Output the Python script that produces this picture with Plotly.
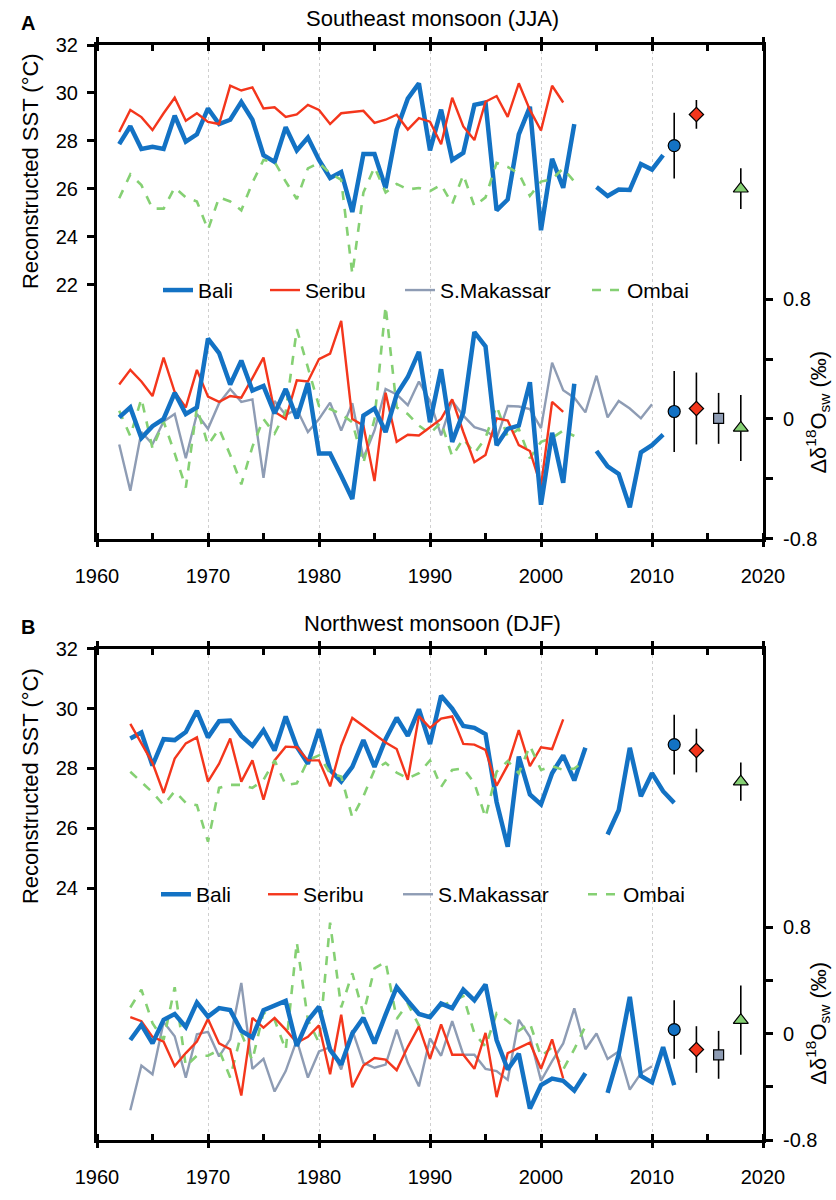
import plotly.graph_objects as go

# ---------------- DATA ----------------
# Panel A: Southeast monsoon (JJA)
a_bali_years = list(range(1962, 2012))
a_bali_sst = [27.86, 28.61, 27.66, 27.75, 27.66, 29.05, 27.97, 28.27, 29.35, 28.7,
              28.88, 29.62, 28.88, 27.4, 27.12, 28.57, 27.6, 28.14, 27.2, 26.45,
              26.7, 25.03, 27.45, 27.45, 26.03, 28.47, 29.76, 30.4, 27.6, 29.3,
              27.2, 27.5, 29.5, 29.6, 25.1, 25.55, 28.27, 29.42, 24.27, 27.25,
              26.04, 28.7, None, 26.07, 25.7, 25.97, 25.95, 27.03, 26.8, 27.4]
a_seribu_years = list(range(1962, 2003))
a_seribu_sst = [28.37, 29.29, 28.99, 28.45, 29.15, 29.8, 28.84, 29.15, 28.79, 28.7,
                30.3, 30.1, 30.23, 29.35, 29.4, 29.0, 29.1, 29.5, 29.29, 28.7,
                29.15, 29.2, 29.25, 28.75, 28.88, 29.09, 28.47, 28.95, 28.8, 27.86,
                29.8, 28.6, 28.03, 29.63, 29.87, 29.0, 30.4, 29.29, 28.43, 30.3,
                29.6]
a_ombai_years = list(range(1962, 2004))
a_ombai_sst = [25.6, 26.6, 26.15, 25.17, 25.17, 26.05, 25.64, 25.47, 24.29, 25.64,
               25.47, 25.1, 26.25, 27.2, 27.12, 26.3, 25.57, 26.85, 27.08, 26.64,
               26.37, 22.44, 25.84, 26.9, 25.84, 26.2, 25.97, 26.03, 25.9, 26.17,
               25.36, 26.58, 25.27, 25.64, 27.08, 26.91, 26.64, 25.7, 26.3, 26.4,
               26.85, 26.3]
a_bali_d18o = [0.011, 0.077, -0.127, -0.048, 0.0, 0.175, 0.033, 0.077, 0.536, 0.44,
               0.23, 0.39, 0.19, 0.22, 0.037, 0.20, 0.004, 0.24, -0.23, -0.23,
               -0.38, -0.535, 0.022, 0.07, -0.087, 0.164, 0.28, 0.448, -0.022, 0.332,
               -0.153, 0.044, 0.58, 0.485, -0.175, -0.066, -0.044, 0.245, -0.573, -0.092,
               -0.426, 0.236, None, -0.214, -0.317, -0.367, -0.59, -0.223, -0.175, -0.105]
a_seribu_d18o = [0.23, 0.328, 0.25, 0.153, 0.41, 0.18, 0.077, 0.328, 0.149, 0.114,
                 0.153, 0.142, 0.273, 0.41, 0.048, 0.0, 0.258, 0.25, 0.40, 0.437,
                 0.656, 0.0, -0.044, -0.415, 0.175, -0.153, -0.105, -0.11, -0.055, 0.0,
                 0.131, -0.087, -0.289, -0.24, 0.004, -0.011, -0.175, -0.214, -0.448, 0.114,
                 0.048]
a_makassar_years = list(range(1962, 2011))
a_makassar_d18o = [-0.17, -0.48, -0.087, -0.168, -0.017, 0.033, -0.262, 0.033, -0.066, 0.105,
                   0.20, 0.114, 0.131, -0.393, 0.12, 0.026, 0.066, -0.087, 0.0, 0.109,
                   -0.077, 0.105, -0.262, -0.077, 0.20, 0.164, 0.092, 0.25, 0.12, -0.109,
                   0.12, 0.022, -0.055, -0.077, -0.131, 0.087, 0.083, 0.066, -0.061, 0.376,
                   0.192, 0.142, 0.044, 0.289, 0.011, 0.12, 0.07, 0.004, 0.098]
a_ombai_d18o = [0.055, -0.114, 0.136, -0.197, -0.017, -0.23, -0.459, 0.077, -0.175, -0.066,
                -0.24, -0.437, -0.186, 0.0, -0.098, 0.048, 0.60, 0.339, 0.087, 0.066,
                0.033, -0.022, -0.295, 0.0, 0.754, 0.077, 0.033, -0.044, -0.098, -0.022,
                -0.25, -0.131, -0.23, -0.127, 0.087, -0.12, -0.066, -0.262, -0.153, -0.127,
                -0.077, -0.114]
a_mk_sst_years = [2012, 2014, 2018]
a_mk_sst = [27.8, 29.1, 26.0]
a_mk_sst_err = [1.37, 0.6, 0.85]
a_mk_d_years = [2012, 2014, 2016, 2018]
a_mk_d = [0.05, 0.07, 0.004, -0.06]
a_mk_d_err = [0.27, 0.24, 0.17, 0.22]

# Panel B: Northwest monsoon (DJF)
b_bali_years = list(range(1963, 2013))
b_bali_sst = [29.0, 29.2, 28.1, 28.98, 28.95, 29.22, 29.93, 29.04, 29.58, 29.6,
              29.09, 28.76, 29.28, 28.6, 29.74, 28.73, 28.16, 29.31, 27.95, 27.56,
              28.05, 28.95, 28.05, 28.98, 29.7, 29.09, 29.98, 28.82, 30.43, 30.0,
              29.42, 29.36, 29.15, 26.88, 25.38, 28.4, 27.13, 26.8, 27.84, 28.44,
              27.6, 28.69, None, 25.79, 26.6, 28.69, 27.07, 27.84, 27.24, 26.85]
b_seribu_years = list(range(1963, 2003))
b_seribu_sst = [29.49, 28.82, 28.19, 27.18, 28.33, 28.84, 29.04, 27.56, 28.16, 29.0,
                27.56, 28.27, 26.96, 28.27, 28.73, 28.71, 28.27, 28.27, 27.4, 28.76,
                29.69, 29.42, 29.15, 28.87, 28.65, 27.62, 29.75, 29.36, 29.67, 29.74,
                28.82, 28.8, 28.62, 27.42, 28.11, 29.28, 28.08, 28.71, 28.65, 29.64]
b_ombai_years = list(range(1963, 2005))
b_ombai_sst = [27.89, 27.53, 27.2, 26.77, 27.24, 26.85, 26.77, 25.55, 27.35, 27.45,
               27.45, 27.35, 27.62, 28.27, 27.45, 27.5, 28.27, 28.44, 27.84, 27.73,
               26.36, 27.07, 27.95, 28.19, 27.86, 27.67, 27.84, 28.27, 27.38, 27.95,
               28.0, 27.51, 26.36, 27.89, 28.25, 27.84, 28.76, 27.95, 28.08, 27.95,
               28.0, 28.27]
b_bali_d18o = [-0.049, 0.066, -0.074, 0.103, 0.147, 0.049, 0.233, 0.127, 0.191, 0.176,
               0.02, -0.029, 0.176, 0.213, 0.245, -0.093, 0.098, 0.201, -0.123, -0.233,
               0.0, 0.118, -0.074, 0.142, 0.348, 0.245, 0.147, 0.123, 0.225, 0.191,
               0.33, 0.25, 0.368, -0.049, -0.27, -0.152, -0.564, -0.387, -0.338, -0.355,
               -0.429, -0.299, None, -0.446, -0.159, 0.275, -0.319, -0.368, -0.103, -0.387]
b_seribu_d18o = [0.123, 0.093, -0.025, -0.061, -0.245, -0.147, -0.061, 0.11, -0.074, -0.118,
                 -0.466, 0.118, 0.044, 0.118, 0.029, -0.069, -0.025, 0.061, -0.306, 0.142,
                 -0.404, -0.24, -0.184, -0.196, -0.275, -0.1, 0.054, -0.191, 0.069, -0.159,
                 -0.159, -0.265, 0.005, -0.478, -0.147, -0.11, -0.069, -0.265, -0.044, -0.338]
b_makassar_years = list(range(1963, 2011))
b_makassar_d18o = [-0.576, -0.24, -0.306, 0.086, -0.02, -0.331, -0.005, 0.012, -0.172, -0.044,
                   0.38, -0.265, -0.191, -0.436, -0.282, -0.049, -0.331, -0.135, -0.103, -0.27,
                   0.025, -0.22, -0.257, -0.233, 0.029, -0.22, -0.397, -0.037, -0.167, 0.093,
                   -0.159, -0.159, -0.265, -0.282, -0.348, 0.103, -0.025, -0.355, -0.208, -0.074,
                   0.189, -0.118, 0.0, -0.191, -0.135, -0.422, -0.299, -0.245]
b_ombai_d18o = [0.196, 0.33, 0.078, -0.049, 0.348, -0.245, -0.167, -0.167, -0.123, -0.331,
                0.0, -0.201, 0.159, 0.103, -0.123, 0.686, 0.103, -0.069, 0.833, 0.196,
                0.453, 0.147, 0.49, 0.539, 0.11, 0.225, 0.061, 0.142, 0.208, 0.24,
                0.282, 0.0, -0.098, 0.152, 0.093, 0.02, 0.078, -0.172, -0.103, -0.27,
                -0.118, 0.054]
b_mk_sst_years = [2012, 2014, 2018]
b_mk_sst = [28.8, 28.6, 27.56]
b_mk_sst_err = [1.0, 0.73, 0.64]
b_mk_d_years = [2012, 2014, 2016, 2018]
b_mk_d = [0.03, -0.12, -0.16, 0.1]
b_mk_d_err = [0.22, 0.175, 0.18, 0.26]

x_tick_vals = [1960, 1970, 1980, 1990, 2000, 2010, 2020]
a_sst_ticks = [22, 24, 26, 28, 30, 32]
b_sst_ticks = [24, 26, 28, 30, 32]
d_tick_vals = [-0.8, 0, 0.8]
d_tick_text = ["-0.8", "0", "0.8"]
d_minor_vals = [-0.4, 0.4]

# ---------------- STYLE ----------------
C_BALI = "#1372c4"
C_SERIBU = "#f4361c"
C_MAK = "#8e9cb4"
C_OMBAI = "#85d073"
FONT = "Liberation Sans, Arial, Helvetica, sans-serif"

W, H = 836, 1200
L, R, T, B = 97, 73, 45, 35
PW, PH = W - L - R, H - T - B


def px_x(px):
    return (px - L) / PW


def px_y(py):
    return (H - B - py) / PH


fig = go.Figure()


def line(x, y, color, width, xa, ya, name, legend, show, dash="solid"):
    fig.add_trace(go.Scatter(
        x=x, y=y, mode="lines", name=name, xaxis=xa, yaxis=ya,
        line=dict(color=color, width=width, dash=dash),
        legend=legend, showlegend=show, connectgaps=False, hoverinfo="skip"))


def markers(x, y, err, symbols, colors, sizes, xa, ya):
    fig.add_trace(go.Scatter(
        x=x, y=y, mode="markers", xaxis=xa, yaxis=ya, showlegend=False,
        marker=dict(symbol=symbols, color=colors, size=sizes, opacity=1,
                    line=dict(color="black", width=1.2)),
        error_y=dict(type="data", array=err, color="black", thickness=1.6, width=0),
        hoverinfo="skip"))


# Panel A
line(a_bali_years, a_bali_sst, C_BALI, 4.5, "x", "y", "Bali", "legend", True)
line(a_seribu_years, a_seribu_sst, C_SERIBU, 2.4, "x", "y", "Seribu", "legend2", True)
line(a_makassar_years, a_makassar_d18o, C_MAK, 2.4, "x", "y2", "S.Makassar", "legend3", True)
line(a_ombai_years, a_ombai_sst, C_OMBAI, 2.6, "x", "y", "Ombai", "legend4", True, "dash")
line(a_ombai_years, a_ombai_d18o, C_OMBAI, 2.6, "x", "y2", "Ombai", "legend4", False, "dash")
line(a_seribu_years, a_seribu_d18o, C_SERIBU, 2.4, "x", "y2", "Seribu", "legend2", False)
line(a_bali_years, a_bali_d18o, C_BALI, 4.5, "x", "y2", "Bali", "legend", False)
markers(a_mk_sst_years, a_mk_sst, a_mk_sst_err,
        ["circle", "diamond", "triangle-up"], [C_BALI, C_SERIBU, C_OMBAI], [12, 11, 13], "x", "y")
markers(a_mk_d_years, a_mk_d, a_mk_d_err,
        ["circle", "diamond", "square", "triangle-up"], [C_BALI, C_SERIBU, C_MAK, C_OMBAI],
        [12, 11, 10, 13], "x", "y2")

# Panel B
line(b_bali_years, b_bali_sst, C_BALI, 4.5, "x2", "y3", "Bali", "legend5", True)
line(b_seribu_years, b_seribu_sst, C_SERIBU, 2.4, "x2", "y3", "Seribu", "legend6", True)
line(b_makassar_years, b_makassar_d18o, C_MAK, 2.4, "x2", "y4", "S.Makassar", "legend7", True)
line(b_ombai_years, b_ombai_sst, C_OMBAI, 2.6, "x2", "y3", "Ombai", "legend8", True, "dash")
line(b_ombai_years, b_ombai_d18o, C_OMBAI, 2.6, "x2", "y4", "Ombai", "legend8", False, "dash")
line(b_seribu_years, b_seribu_d18o, C_SERIBU, 2.4, "x2", "y4", "Seribu", "legend6", False)
line(b_bali_years, b_bali_d18o, C_BALI, 4.5, "x2", "y4", "Bali", "legend5", False)
markers(b_mk_sst_years, b_mk_sst, b_mk_sst_err,
        ["circle", "diamond", "triangle-up"], [C_BALI, C_SERIBU, C_OMBAI], [12, 11, 13], "x2", "y3")
markers(b_mk_d_years, b_mk_d, b_mk_d_err,
        ["circle", "diamond", "square", "triangle-up"], [C_BALI, C_SERIBU, C_MAK, C_OMBAI],
        [12, 11, 10, 13], "x2", "y4")

tickfont = dict(family=FONT, size=20, color="black")


def xaxis(anchor):
    return dict(anchor=anchor, domain=[0, 1], range=[1960, 2020], tickvals=x_tick_vals,
                showline=True, linecolor="black", linewidth=3, mirror="ticks",
                ticks="outside", ticklen=5, tickwidth=3, tickcolor="black",
                minor=dict(dtick=5, tick0=1960, ticks="inside", ticklen=6, tickwidth=2.5,
                           tickcolor="black", showgrid=False),
                showgrid=True, gridcolor="#cfcfcf", gridwidth=1, griddash="dot",
                zeroline=False, tickfont=tickfont, ticklabelstandoff=12)


def sst_axis(anchor, domain, rng, ticks):
    return dict(anchor=anchor, domain=domain, range=rng, tickvals=ticks,
                showline=True, linecolor="black", linewidth=3, ticks="outside",
                ticklen=7, tickwidth=3, tickcolor="black", showgrid=False,
                zeroline=False, tickfont=tickfont, ticklabelstandoff=5)


def d_axis(anchor, over, rng):
    return dict(anchor=anchor, overlaying=over, side="right", range=rng,
                tickvals=d_tick_vals, ticktext=d_tick_text,
                minor=dict(tickvals=d_minor_vals, ticks="outside", ticklen=7, tickwidth=3,
                           tickcolor="black", showgrid=False),
                showline=True, linecolor="black", linewidth=3, ticks="outside",
                ticklen=7, tickwidth=3, tickcolor="black", showgrid=False,
                zeroline=False, tickfont=tickfont, ticklabelstandoff=6)


a_dom = [px_y(550), 1.0]
b_dom = [0.0, px_y(662.7)]

legfont = dict(family=FONT, size=21, color="black")


def legend(px, py):
    return dict(orientation="h", x=px_x(px), y=px_y(py), xanchor="left", yanchor="middle",
                xref="paper", yref="paper", font=legfont, bgcolor="rgba(0,0,0,0)",
                itemwidth=30, tracegroupgap=0)


ann_font = dict(family=FONT, size=22, color="black")
annotations = [
    dict(text="<b>A</b>", x=px_x(28), y=px_y(22), font=dict(family=FONT, size=20, color="black")),
    dict(text="Southeast monsoon (JJA)", x=px_x(432), y=px_y(18), font=ann_font),
    dict(text="<b>B</b>", x=px_x(28), y=px_y(640), font=dict(family=FONT, size=20, color="black")),
    dict(text="Northwest monsoon (DJF)", x=px_x(432), y=px_y(637), font=ann_font),
    dict(text="Reconstructed SST (°C)", x=px_x(30), y=px_y(174), textangle=-90, font=ann_font),
    dict(text="Reconstructed SST (°C)", x=px_x(30), y=px_y(803), textangle=-90, font=ann_font),
    dict(text="Δδ<sup>18</sup>O<sub>sw</sub> (‰)", x=px_x(818), y=px_y(421), textangle=-90, font=ann_font),
    dict(text="Δδ<sup>18</sup>O<sub>sw</sub> (‰)", x=px_x(818), y=px_y(1046), textangle=-90, font=ann_font),
]
for a in annotations:
    a.update(xref="paper", yref="paper", showarrow=False, xanchor="center", yanchor="middle")

fig.update_layout(
    width=W, height=H,
    margin=dict(l=L, r=R, t=T, b=B, pad=0),
    paper_bgcolor="white", plot_bgcolor="white",
    font=dict(family=FONT, size=20, color="black"),
    xaxis=xaxis("y"),
    yaxis=sst_axis("x", a_dom, [11.39, 32], a_sst_ticks),
    yaxis2=d_axis("x", "y", [-0.8, 2.498]),
    xaxis2=xaxis("y3"),
    yaxis3=sst_axis("x2", b_dom, [15.57, 32], b_sst_ticks),
    yaxis4=d_axis("x2", "y3", [-0.8, 2.89]),
    legend=legend(158, 296),
    legend2=legend(265, 296),
    legend3=legend(400, 296),
    legend4=legend(587, 296),
    legend5=legend(156, 914),
    legend6=legend(263, 914),
    legend7=legend(398, 914),
    legend8=legend(583, 914),
    annotations=annotations,
)

fig.write_html("out.html")
